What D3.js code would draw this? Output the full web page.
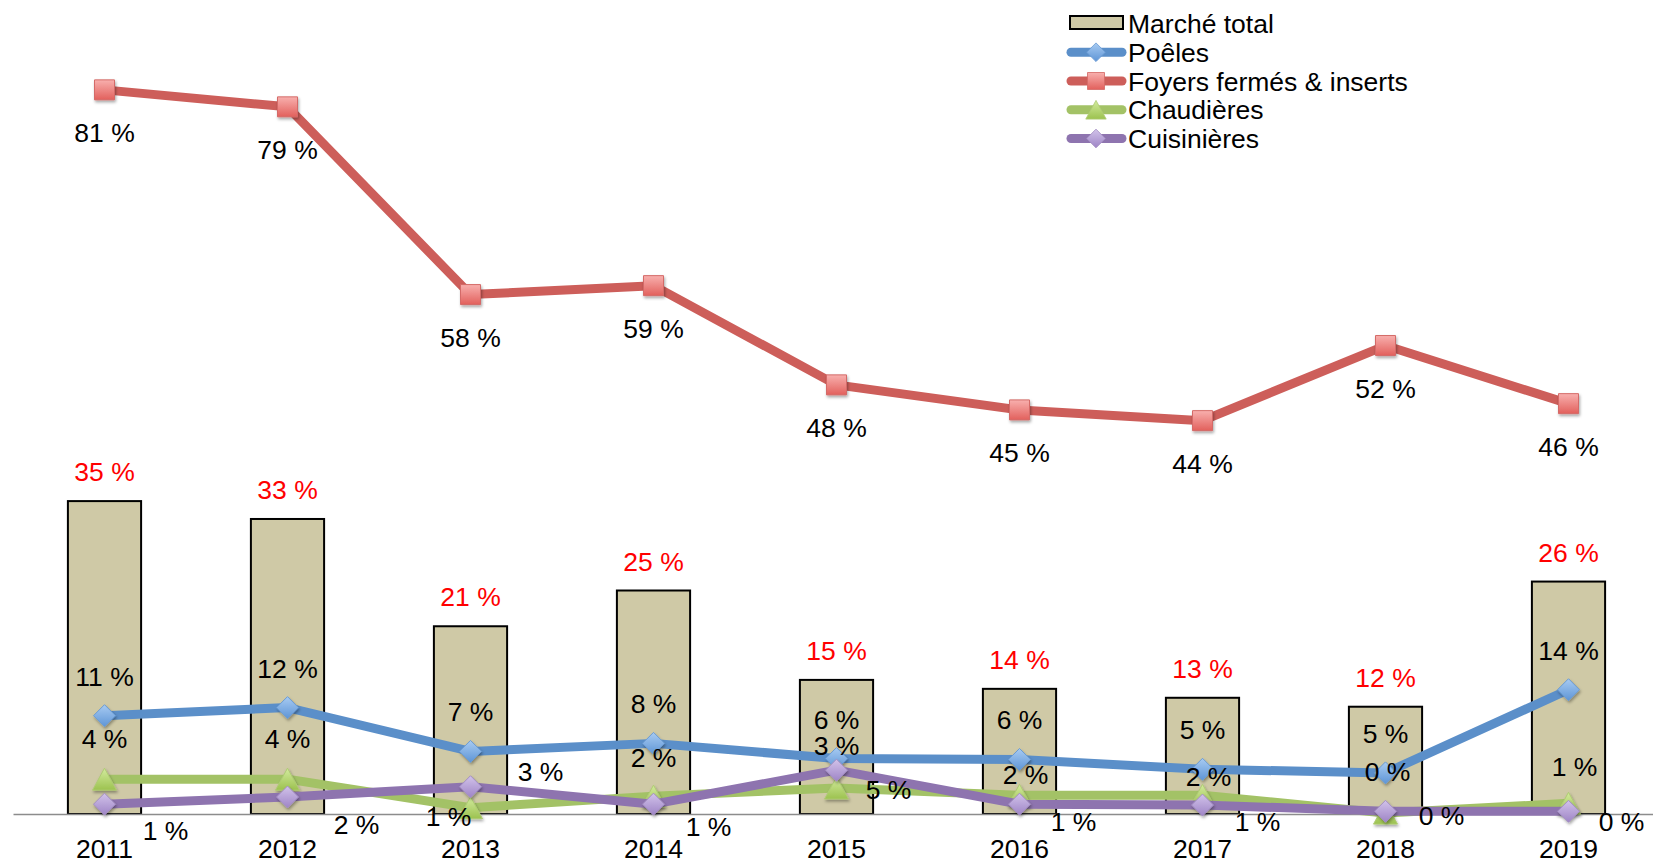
<!DOCTYPE html>
<html>
<head>
<meta charset="utf-8">
<script src="https://cdn.jsdelivr.net/npm/d3@7"></script>
<style>
  body { margin: 0; background: #fff; }
  text { font-family: "Liberation Sans", Arial, sans-serif; }
</style>
</head>
<body>
<svg width="1653" height="859"></svg>
<script>
// values (%)
const years = ["2011", "2012", "2013", "2014", "2015", "2016", "2017", "2018", "2019"];
const marcheTotal = [35, 33, 21, 25, 15, 14, 13, 12, 26];
const poeles = [11.0, 11.9, 7.0, 7.9, 6.2, 6.1, 5.0, 4.6, 13.9];
const foyers = [81.0, 79.1, 58.1, 59.1, 48.0, 45.2, 44.0, 52.4, 45.9];
const chaudieres = [3.9, 3.9, 0.7, 2.0, 2.9, 2.1, 2.1, 0.1, 1.2];
const cuisinieres = [1.1, 1.9, 3.05, 1.1, 4.9, 1.1, 1.0, 0.3, 0.3];

// hand placed label nudges (label centre relative to the point)
const chaudLabelShift = [[0, -40], [0, -40], [-22, 9], [0, -38], [0, -42], [6, -20], [6, -18], [2, -41], [6, -36]];
const cuisLabelShift = [[61, 27], [69, 28], [70, -15], [55, 23], [52, 20], [54, 18], [55, 17], [56, 5], [53, 11]];

const svg = d3.select("svg");
const width = +svg.attr("width");
const height = +svg.attr("height");
const fontSize = 26.5;

const xScale = d3.scaleBand()
  .domain(years)
  .range([13, 1660])
  .paddingInner(0.6)
  .paddingOuter(0.3);

const yScale = d3.scaleLinear()
  .domain([0, 90])
  .range([814, 9.4]);

const cx = (d) => xScale(d) + xScale.bandwidth() / 2;
const pct = (v) => `${Math.round(v)} %`;

const shapes = {
  diamond: "M0,-11L11,0L0,11L-11,0Z",
  square: "M-10,-10H10V10H-10Z",
  triangle: "M0,-11L12,11L-12,11Z",
};

const series = [
  { name: "Poêles", values: poeles, line: "#5B8FC9", top: "#A8CBF2", bottom: "#5E95D6", edge: "#6A9BD3", shape: "diamond" },
  { name: "Foyers fermés & inserts", values: foyers, line: "#CD5E5A", top: "#F8B0AE", bottom: "#E2605C", edge: "#D46B68", shape: "square" },
  { name: "Chaudières", values: chaudieres, line: "#A3C266", top: "#D3EB9E", bottom: "#9CC24F", edge: "#AFCB74", shape: "triangle" },
  { name: "Cuisinières", values: cuisinieres, line: "#8E74AF", top: "#D2C3EA", bottom: "#9E84C6", edge: "#A38EC2", shape: "diamond" },
];

const defs = svg.append("defs");

defs.append("filter")
  .attr("id", "shadow")
  .attr("x", "-50%").attr("y", "-50%")
  .attr("width", "200%").attr("height", "200%")
  .append("feDropShadow")
  .attr("dx", 1).attr("dy", 2)
  .attr("stdDeviation", 1.5)
  .attr("flood-opacity", 0.35);

series.forEach((s, i) => {
  const grad = defs.append("linearGradient")
    .attr("id", `grad${i}`)
    .attr("x1", 0).attr("y1", 0)
    .attr("x2", 0).attr("y2", 1);
  grad.append("stop").attr("offset", "0%").attr("stop-color", s.top);
  grad.append("stop").attr("offset", "100%").attr("stop-color", s.bottom);
});

// bars
svg.append("g")
  .selectAll("rect")
  .data(marcheTotal)
  .enter()
  .append("rect")
  .attr("x", (d, i) => xScale(years[i]))
  .attr("y", (d) => yScale(d))
  .attr("width", xScale.bandwidth())
  .attr("height", (d) => yScale(0) - yScale(d))
  .attr("fill", "#CFC9A6")
  .attr("stroke", "#000")
  .attr("stroke-width", 2);

// x axis
const xAxisG = svg.append("g")
  .attr("transform", `translate(0, ${yScale(0)})`)
  .call(d3.axisBottom(xScale).tickSize(0).tickPadding(25));

xAxisG.select(".domain")
  .attr("stroke", "#8C8C8C")
  .attr("stroke-width", 1.5);

xAxisG.selectAll("text")
  .attr("font-family", "Liberation Sans, Arial, sans-serif")
  .attr("font-size", fontSize)
  .attr("fill", "#000");

// lines and markers
const line = d3.line()
  .x((d, i) => cx(years[i]))
  .y((d) => yScale(d));

series.forEach((s, i) => {
  svg.append("path")
    .datum(s.values)
    .attr("d", line)
    .attr("fill", "none")
    .attr("stroke", s.line)
    .attr("stroke-width", 9)
    .attr("stroke-linejoin", "round");

  svg.append("g")
    .selectAll("path")
    .data(s.values)
    .enter()
    .append("path")
    .attr("d", shapes[s.shape])
    .attr("transform", (d, j) => `translate(${cx(years[j])}, ${yScale(d)})`)
    .attr("fill", `url(#grad${i})`)
    .attr("stroke", s.edge)
    .attr("stroke-width", 1)
    .attr("filter", "url(#shadow)");
});

// data labels
const labels = svg.append("g")
  .attr("font-size", fontSize)
  .attr("text-anchor", "middle");

const addLabels = (values, pos, colour) => {
  labels.append("g")
    .selectAll("text")
    .data(values)
    .enter()
    .append("text")
    .attr("x", (d, i) => pos(d, i)[0])
    .attr("y", (d, i) => pos(d, i)[1] + 9)
    .attr("fill", colour)
    .text(pct);
};

addLabels(marcheTotal, (d, i) => [cx(years[i]), yScale(d) - 29], "#FF0000");
addLabels(foyers, (d, i) => [cx(years[i]), yScale(d) + 43], "#000");
addLabels(poeles, (d, i) => [cx(years[i]), yScale(d) - 39], "#000");
addLabels(chaudieres, (d, i) => [cx(years[i]) + chaudLabelShift[i][0], yScale(d) + chaudLabelShift[i][1]], "#000");
addLabels(cuisinieres, (d, i) => [cx(years[i]) + cuisLabelShift[i][0], yScale(d) + cuisLabelShift[i][1]], "#000");

// legend
const legend = svg.append("g")
  .attr("font-size", fontSize);

const rowY = (i) => 33 + i * 28.75;

legend.append("rect")
  .attr("x", 1070)
  .attr("y", 16)
  .attr("width", 53)
  .attr("height", 13)
  .attr("fill", "#CFC9A6")
  .attr("stroke", "#000")
  .attr("stroke-width", 2);

legend.append("text")
  .attr("x", 1128)
  .attr("y", rowY(0))
  .text("Marché total");

series.forEach((s, i) => {
  const y = rowY(i + 1) - 9.5;
  legend.append("line")
    .attr("x1", 1071).attr("x2", 1122)
    .attr("y1", y).attr("y2", y)
    .attr("stroke", s.line)
    .attr("stroke-width", 9)
    .attr("stroke-linecap", "round");
  legend.append("path")
    .attr("d", shapes[s.shape])
    .attr("transform", `translate(1096, ${y}) scale(0.85)`)
    .attr("fill", `url(#grad${i})`)
    .attr("stroke", s.edge)
    .attr("stroke-width", 1);
  legend.append("text")
    .attr("x", 1128)
    .attr("y", rowY(i + 1))
    .text(s.name);
});
</script>
</body>
</html>
